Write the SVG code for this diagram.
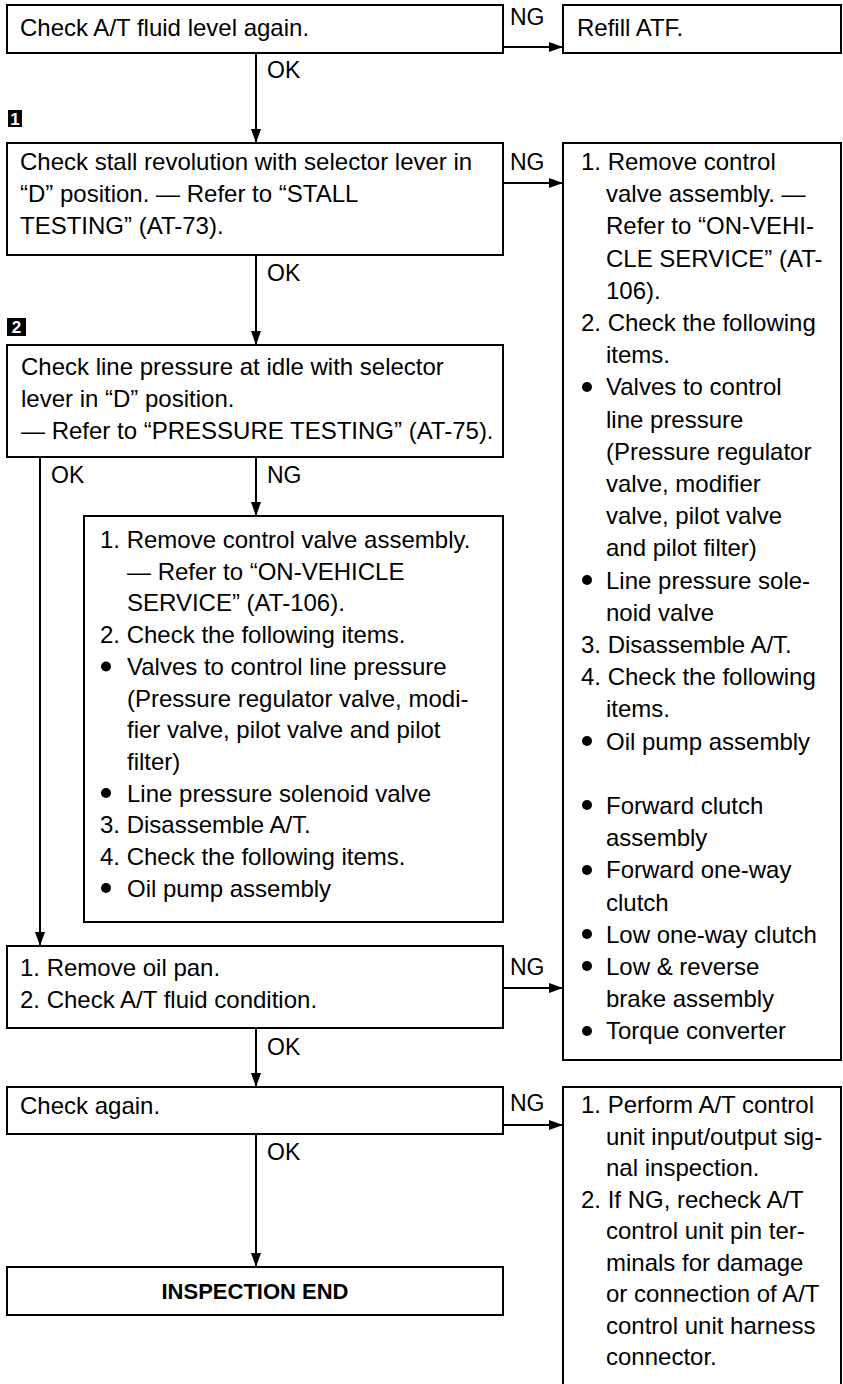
<svg xmlns="http://www.w3.org/2000/svg" width="843" height="1384" viewBox="0 0 843 1384">
<style>
.box{fill:#fff;stroke:#000;stroke-width:2}
.t{font-family:"Liberation Sans",Arial,sans-serif;font-size:24px;fill:#000}
.b{font-family:"Liberation Sans",Arial,sans-serif;font-size:22px;font-weight:bold;fill:#000}
.lbl{font-family:"Liberation Sans",Arial,sans-serif;font-size:23px;fill:#000}
.ln{fill:none;stroke:#000;stroke-width:2}
.mk{fill:#000}
.mkt{font-family:"Liberation Sans",Arial,sans-serif;font-size:17px;font-weight:bold;fill:#fff}
</style>
<defs>
<marker id="ah" markerUnits="userSpaceOnUse" markerWidth="14" markerHeight="10" viewBox="0 0 14 10" refX="14" refY="5" orient="auto">
<path d="M0,0 L14,5 L0,10 z" fill="#000"/>
</marker>
</defs>
<rect width="843" height="1384" fill="#fff"/>

<g id="connectors">
<line class="ln" x1="503" y1="47" x2="563" y2="47" marker-end="url(#ah)"/>
<text class="lbl" x="510" y="25">NG</text>
<line class="ln" x1="256" y1="53" x2="256" y2="143" marker-end="url(#ah)"/>
<text class="lbl" x="267" y="78">OK</text>
<line class="ln" x1="503" y1="183" x2="563" y2="183" marker-end="url(#ah)"/>
<text class="lbl" x="510" y="170">NG</text>
<line class="ln" x1="256" y1="255" x2="256" y2="345" marker-end="url(#ah)"/>
<text class="lbl" x="267" y="281">OK</text>
<line class="ln" x1="256" y1="457" x2="256" y2="516" marker-end="url(#ah)"/>
<text class="lbl" x="267" y="483">NG</text>
<line class="ln" x1="40" y1="457" x2="40" y2="946" marker-end="url(#ah)"/>
<text class="lbl" x="51" y="483">OK</text>
<line class="ln" x1="503" y1="988" x2="563" y2="988" marker-end="url(#ah)"/>
<text class="lbl" x="510" y="975">NG</text>
<line class="ln" x1="256" y1="1028" x2="256" y2="1087" marker-end="url(#ah)"/>
<text class="lbl" x="267" y="1055">OK</text>
<line class="ln" x1="503" y1="1125" x2="563" y2="1125" marker-end="url(#ah)"/>
<text class="lbl" x="510" y="1111">NG</text>
<line class="ln" x1="256" y1="1134" x2="256" y2="1267" marker-end="url(#ah)"/>
<text class="lbl" x="267" y="1160">OK</text>
</g>

<g id="marker1">
<rect class="mk" x="8" y="110" width="14" height="17"/>
<text class="mkt" x="15" y="125" text-anchor="middle">1</text>
</g>
<g id="marker2">
<rect class="mk" x="7" y="318" width="19" height="18"/>
<text class="mkt" x="16.5" y="333" text-anchor="middle">2</text>
</g>

<g id="n1">
<rect class="box" x="7" y="5" width="496" height="48"/>
<text class="t" x="20" y="36">Check A/T fluid level again.</text>
</g>
<g id="n_refill">
<rect class="box" x="563" y="5" width="278" height="48"/>
<text class="t" x="577" y="36">Refill ATF.</text>
</g>

<g id="n2">
<rect class="box" x="7" y="143" width="496" height="112"/>
<text class="t" x="20" y="170">Check stall revolution with selector lever in</text>
<text class="t" x="20" y="202">“D” position. — Refer to “STALL</text>
<text class="t" x="20" y="234">TESTING” (AT-73).</text>
</g>

<g id="n_right1">
<rect class="box" x="563" y="143" width="278" height="917"/>
<text class="t" x="581" y="170">1. Remove control</text>
<text class="t" x="606" y="202.2">valve assembly. —</text>
<text class="t" x="606" y="234.4">Refer to “ON-VEHI-</text>
<text class="t" x="606" y="266.6">CLE SERVICE” (AT-</text>
<text class="t" x="606" y="298.8">106).</text>
<text class="t" x="581" y="331">2. Check the following</text>
<text class="t" x="606" y="363.2">items.</text>
<circle cx="587" cy="387" r="5"/>
<text class="t" x="606" y="395.4">Valves to control</text>
<text class="t" x="606" y="427.6">line pressure</text>
<text class="t" x="606" y="459.8">(Pressure regulator</text>
<text class="t" x="606" y="492">valve, modifier</text>
<text class="t" x="606" y="524.2">valve, pilot valve</text>
<text class="t" x="606" y="556.4">and pilot filter)</text>
<circle cx="587" cy="580" r="5"/>
<text class="t" x="606" y="588.6">Line pressure sole-</text>
<text class="t" x="606" y="620.8">noid valve</text>
<text class="t" x="581" y="653">3. Disassemble A/T.</text>
<text class="t" x="581" y="685.2">4. Check the following</text>
<text class="t" x="606" y="717.4">items.</text>
<circle cx="587" cy="741" r="5"/>
<text class="t" x="606" y="749.6">Oil pump assembly</text>
<circle cx="587" cy="805" r="5"/>
<text class="t" x="606" y="814">Forward clutch</text>
<text class="t" x="606" y="846.2">assembly</text>
<circle cx="587" cy="870" r="5"/>
<text class="t" x="606" y="878.4">Forward one-way</text>
<text class="t" x="606" y="910.6">clutch</text>
<circle cx="587" cy="934" r="5"/>
<text class="t" x="606" y="942.8">Low one-way clutch</text>
<circle cx="587" cy="966" r="5"/>
<text class="t" x="606" y="975">Low &amp; reverse</text>
<text class="t" x="606" y="1007.2">brake assembly</text>
<circle cx="587" cy="1031" r="5"/>
<text class="t" x="606" y="1039.4">Torque converter</text>
</g>

<g id="n3">
<rect class="box" x="7" y="345" width="496" height="112"/>
<text class="t" x="21" y="375">Check line pressure at idle with selector</text>
<text class="t" x="21" y="407">lever in “D” position.</text>
<text class="t" x="21" y="439">— Refer to “PRESSURE TESTING” (AT-75).</text>
</g>

<g id="n4">
<rect class="box" x="84" y="516" width="419" height="406"/>
<text class="t" x="100" y="548">1. Remove control valve assembly.</text>
<text class="t" x="127" y="579.7">— Refer to “ON-VEHICLE</text>
<text class="t" x="127" y="611.4">SERVICE” (AT-106).</text>
<text class="t" x="100" y="643.1">2. Check the following items.</text>
<circle cx="106" cy="666.5" r="5"/>
<text class="t" x="127" y="674.8">Valves to control line pressure</text>
<text class="t" x="127" y="706.5">(Pressure regulator valve, modi-</text>
<text class="t" x="127" y="738.2">fier valve, pilot valve and pilot</text>
<text class="t" x="127" y="769.9">filter)</text>
<circle cx="106" cy="793" r="5"/>
<text class="t" x="127" y="801.6">Line pressure solenoid valve</text>
<text class="t" x="100" y="833.3">3. Disassemble A/T.</text>
<text class="t" x="100" y="865">4. Check the following items.</text>
<circle cx="106" cy="888" r="5"/>
<text class="t" x="127" y="896.7">Oil pump assembly</text>
</g>

<g id="n5">
<rect class="box" x="7" y="946" width="496" height="82"/>
<text class="t" x="20" y="976">1. Remove oil pan.</text>
<text class="t" x="20" y="1008">2. Check A/T fluid condition.</text>
</g>

<g id="n6">
<rect class="box" x="7" y="1087" width="496" height="47"/>
<text class="t" x="20" y="1114">Check again.</text>
</g>

<g id="n_right2">
<rect class="box" x="563" y="1087" width="278" height="310"/>
<text class="t" x="581" y="1113">1. Perform A/T control</text>
<text class="t" x="606" y="1144.5">unit input/output sig-</text>
<text class="t" x="606" y="1176">nal inspection.</text>
<text class="t" x="581" y="1207.5">2. If NG, recheck A/T</text>
<text class="t" x="606" y="1239">control unit pin ter-</text>
<text class="t" x="606" y="1270.5">minals for damage</text>
<text class="t" x="606" y="1302">or connection of A/T</text>
<text class="t" x="606" y="1333.5">control unit harness</text>
<text class="t" x="606" y="1365">connector.</text>
</g>

<g id="n_end">
<rect class="box" x="7" y="1267" width="496" height="48"/>
<text class="b" x="255" y="1299" text-anchor="middle">INSPECTION END</text>
</g>
</svg>
